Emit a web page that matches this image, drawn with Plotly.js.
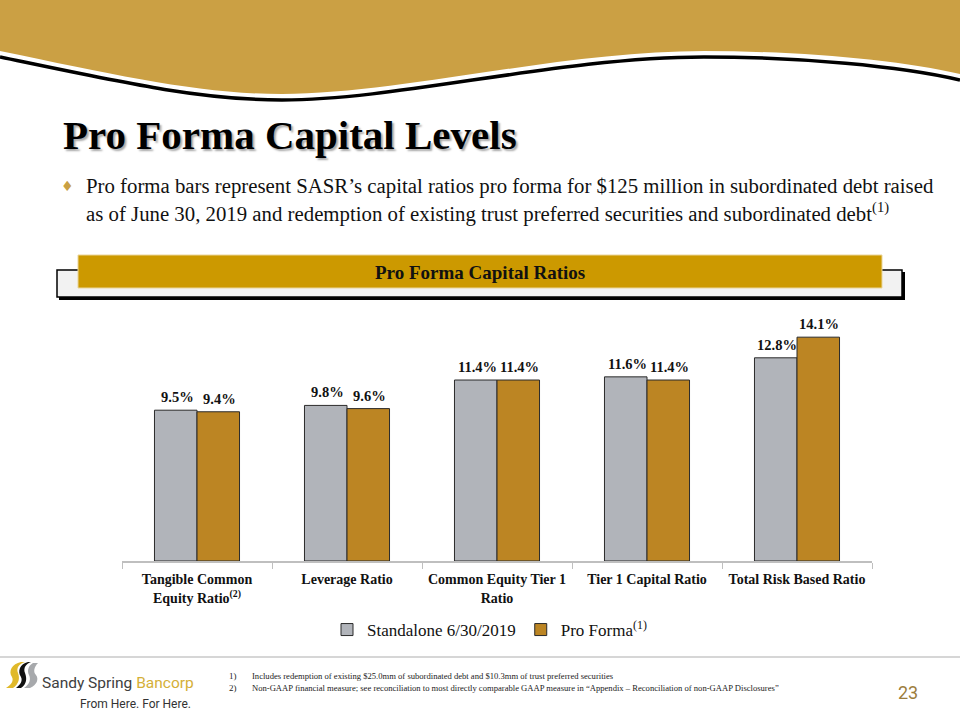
<!DOCTYPE html>
<html>
<head>
<meta charset="utf-8">
<script src="https://cdn.plot.ly/plotly-3.0.1.min.js"></script>
<style>html,body{margin:0;padding:0;background:#fff;}#chart{width:960px;height:720px;}</style>
</head>
<body>
<div id="chart"></div>
<script>
// ---- data ----
const categories = [
  "Tangible Common<br>Equity Ratio<sup>(2)</sup>",
  "Leverage Ratio",
  "Common Equity Tier 1<br>Ratio",
  "Tier 1 Capital Ratio",
  "Total Risk Based Ratio"
];
const standalone = [9.5, 9.8, 11.4, 11.6, 12.8];
const proForma = [9.4, 9.6, 11.4, 11.4, 14.1];
const seriesNames = ["Standalone 6/30/2019", "Pro Forma<sup>(1)</sup>"];

// ---- geometry helpers (plot area in pixels) ----
const L = 122, R = 872, T = 307, B = 561;
function px(x){ return (x - L) / (R - L); }
function py(y){ return (B - y) / (B - T); }
function pt(x, y){ return px(x).toFixed(5) + ',' + py(y).toFixed(5); }

const serif = "Liberation Serif, Times New Roman, serif";
const sans = "Roboto, Liberation Sans, Arial, sans-serif";

const traces = [
  {
    type: 'bar', x: categories, y: standalone, name: seriesNames[0],
    marker: {color: '#B1B4BA', line: {color: '#2b2b2b', width: 1}},
    hoverinfo: 'skip'
  },
  {
    type: 'bar', x: categories, y: proForma, name: seriesNames[1],
    marker: {color: '#BC8523', line: {color: '#2b2b2b', width: 1}},
    hoverinfo: 'skip'
  }
];

// ---- decorations ----
const headerFill = 'M' + pt(0,0) + ' L' + pt(960,0) + ' L' + pt(960,74) +
  ' C' + pt(900,60) + ' ' + pt(800,51) + ' ' + pt(704,51) +
  ' C' + pt(560,51) + ' ' + pt(400,94) + ' ' + pt(282,94) +
  ' C' + pt(200,94) + ' ' + pt(120,76) + ' ' + pt(0,51) + ' Z';
const headerLine = 'M' + pt(0,57) +
  ' C' + pt(120,82) + ' ' + pt(200,100) + ' ' + pt(282,100) +
  ' C' + pt(400,100) + ' ' + pt(560,57) + ' ' + pt(704,57) +
  ' C' + pt(800,57) + ' ' + pt(900,66) + ' ' + pt(960,80);

const goldSwoosh = 'M' + pt(21,662) + ' C' + pt(12,664) + ' ' + pt(8,671) + ' ' + pt(12,677) +
  ' C' + pt(14,681) + ' ' + pt(11,685) + ' ' + pt(6,688) + ' L' + pt(13,688) +
  ' C' + pt(19,684) + ' ' + pt(20,678) + ' ' + pt(18,673) + ' C' + pt(16,668) + ' ' + pt(19,664) + ' ' + pt(25,662) + ' Z';
const blackSwoosh = 'M' + pt(28,662) + ' C' + pt(20,664) + ' ' + pt(17,671) + ' ' + pt(21,677) +
  ' C' + pt(23,681) + ' ' + pt(20,685) + ' ' + pt(16,688) + ' L' + pt(21,688) +
  ' C' + pt(27,684) + ' ' + pt(27,678) + ' ' + pt(25,673) + ' C' + pt(23,668) + ' ' + pt(26,664) + ' ' + pt(31,662) + ' Z';
const graySwoosh = 'M' + pt(33,663) + ' L' + pt(38,663) + ' C' + pt(34,667) + ' ' + pt(33,672) + ' ' + pt(36,675) +
  ' C' + pt(39,679) + ' ' + pt(37,685) + ' ' + pt(30,688) + ' L' + pt(24,688) +
  ' C' + pt(30,684) + ' ' + pt(31,679) + ' ' + pt(29,675) + ' C' + pt(27,671) + ' ' + pt(28,666) + ' ' + pt(33,663) + ' Z';

const shapes = [
  {type:'path', xref:'paper', yref:'paper', path: headerFill, fillcolor:'#CBA044', line:{width:0}, layer:'below'},
  {type:'path', xref:'paper', yref:'paper', path: headerLine, line:{color:'#000', width:3.5}, layer:'below'},
  // banner background box
  {type:'rect', xref:'paper', yref:'paper', x0:px(59), x1:px(905), y0:py(272), y1:py(300), fillcolor:'#000', line:{width:0}, layer:'below'},
  {type:'rect', xref:'paper', yref:'paper', x0:px(57), x1:px(902), y0:py(270), y1:py(297), fillcolor:'#F2F2F2', line:{color:'#000', width:1.5}, layer:'below'},
  {type:'rect', xref:'paper', yref:'paper', x0:px(78), x1:px(882), y0:py(255), y1:py(288), fillcolor:'#CC9900', line:{color:'#EAD59A', width:1}, layer:'below'},
  // footer separator
  {type:'line', xref:'paper', yref:'paper', x0:px(0), x1:px(960), y0:py(657), y1:py(657), line:{color:'#D6D6D6', width:2}},
  // logo swooshes
  {type:'path', xref:'paper', yref:'paper', path: goldSwoosh, fillcolor:'#E0B92A', line:{width:0}},
  {type:'path', xref:'paper', yref:'paper', path: blackSwoosh, fillcolor:'#111', line:{width:0}},
  {type:'path', xref:'paper', yref:'paper', path: graySwoosh, fillcolor:'#A7A9AC', line:{width:0}}
];

function ann(text, x, y, opts){
  return Object.assign({text: text, x: px(x), y: py(y), xref:'paper', yref:'paper', showarrow:false,
    xanchor:'left', yanchor:'middle'}, opts || {});
}

const annotations = [
  // title with shadow
  ann('<b>Pro Forma Capital Levels</b>', 61, 135, {font:{family:serif, size:41, color:'#000', shadow:'2px 2px 2px rgba(0,0,0,0.35)'}}),
  // bullet
  ann('♦', 59, 186, {font:{family:'DejaVu Sans, sans-serif', size:14, color:'#C9A043'}}),
  ann('Pro forma bars represent SASR’s capital ratios pro forma for $125 million in subordinated debt raised', 84, 186,
      {font:{family:serif, size:20.8, color:'#111'}}),
  ann('as of June 30, 2019 and redemption of existing trust preferred securities and subordinated debt<sup>(1)</sup>', 84, 212,
      {font:{family:serif, size:20.8, color:'#111'}}),
  // banner title
  ann('<b>Pro Forma Capital Ratios</b>', 480, 272, {xanchor:'center', font:{family:serif, size:19, color:'#111'}}),
  // footnotes
  ann('1)', 227, 676, {font:{family:serif, size:9, color:'#222'}}),
  ann('Includes redemption of existing $25.0mm of subordinated debt and $10.3mm of trust preferred securities', 250, 676,
      {font:{family:serif, size:8.6, color:'#222'}}),
  ann('2)', 227, 688, {font:{family:serif, size:9, color:'#222'}}),
  ann('Non-GAAP financial measure; see reconciliation to most directly comparable GAAP measure in “Appendix – Reconciliation of non-GAAP Disclosures”', 250, 688,
      {font:{family:serif, size:8.6, color:'#222'}}),
  // logo text
  ann('Sandy Spring <span style="color:#D4AF37">Bancorp</span>', 40, 683, {font:{family:sans, size:15.5, color:'#404040'}}),
  ann('From Here. For Here.', 193, 704, {xanchor:'right', font:{family:sans, size:12, color:'#333'}}),
  // page number
  ann('23', 920, 692, {xanchor:'right', font:{family:sans, size:18, color:'#9C7D3C'}})
];

// value labels from the data, placed over each bar through the axis scales
const labelFont = {family: serif, size: 14.5, color: '#111', weight: 'bold'};
[standalone, proForma].forEach(function(series, s){
  series.forEach(function(v, i){
    annotations.push({
      x: i, y: v, xref: 'x', yref: 'y', showarrow: false,
      text: v.toFixed(1) + '%', font: labelFont,
      xanchor: 'center', yanchor: 'middle',
      xshift: s === 0 ? -20 : 22, yshift: 13
    });
  });
});

const layout = {
  width: 960, height: 720,
  margin: {l: L, r: 960 - R, t: T, b: 720 - B, pad: 0},
  paper_bgcolor: '#fff', plot_bgcolor: '#fff',
  barmode: 'group', bargap: 0.433, bargroupgap: 0,
  showlegend: true,
  legend: {orientation: 'h', x: 0.49, xanchor: 'center', y: py(630), yanchor: 'middle',
    font: {family: serif, size: 17, color: '#111'}, itemwidth: 30, traceorder: 'normal'},
  xaxis: {
    type: 'category', range: [-0.5, 4.5], fixedrange: true,
    showline: true, linecolor: '#BFBFBF', linewidth: 1.5,
    ticks: 'outside', tickson: 'boundaries', ticklen: 6, tickcolor: '#BFBFBF', tickwidth: 1,
    tickangle: 0, ticklabelstandoff: 5,
    tickfont: {family: serif, size: 14, color: '#111', weight: 'bold'},
    showgrid: false, zeroline: false, automargin: false
  },
  yaxis: {
    range: [0, 16], visible: false, showgrid: false, zeroline: false, fixedrange: true
  },
  shapes: shapes,
  annotations: annotations,
  font: {family: serif}
};

Plotly.newPlot('chart', traces, layout, {displayModeBar: false, staticPlot: true});
</script>
</body>
</html>
